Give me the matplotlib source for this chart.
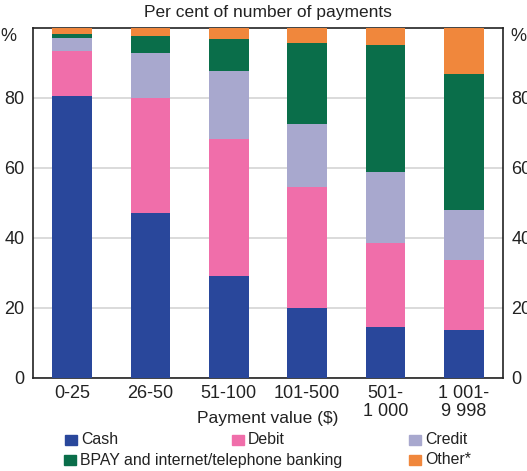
import matplotlib
matplotlib.use("Agg")
import matplotlib.pyplot as plt
from matplotlib.patches import Rectangle
import numpy as np

plt.rcParams['font.family'] = ['Liberation Sans', 'DejaVu Sans']

categories = ["0-25", "26-50", "51-100", "101-500", "501-\n1 000", "1 001-\n9 998"]
cash = [80.5, 47.1, 29.0, 20.0, 14.5, 13.6]
debit = [12.8, 32.8, 39.2, 34.5, 24.0, 20.0]
credit = [3.8, 12.9, 19.4, 18.0, 20.3, 14.3]
bpay = [1.2, 4.9, 9.2, 23.1, 36.3, 38.9]
other = [1.7, 2.3, 3.2, 4.4, 4.9, 13.2]
series_names = ["Cash", "Debit", "Credit", "BPAY and internet/telephone banking", "Other*"]
yticks = [0, 20, 40, 60, 80]

colors = ["#29479b", "#f06eaa", "#a8a8ce", "#0a6e4a", "#f0873c"]
txt = "#222222"

fig = plt.figure(figsize=(5.27, 4.71), dpi=100)
ax = fig.add_axes([33/527, 1 - 377.7/471, 470/527, 350/471])

x = np.arange(len(categories))
bottom = np.zeros(len(categories))
for vals, c in zip([cash, debit, credit, bpay, other], colors):
    ax.bar(x, vals, bottom=bottom, width=0.51, color=c, zorder=3, linewidth=0)
    bottom += np.array(vals)

ax.set_xlim(-0.5, len(categories) - 0.5)
ax.set_ylim(0, 100)
ax.set_yticks(yticks)
ax.set_yticklabels([str(t) for t in yticks], fontsize=13, color=txt)
ax.yaxis.grid(True, color="#d4d4d4", linewidth=1.2, zorder=0)
ax.tick_params(axis='y', length=0, pad=6)
ax.set_xticks(x)
ax.set_xticklabels(categories, fontsize=13, color=txt, linespacing=1.1, va='top')
ax.tick_params(axis='x', length=0, pad=5)
for s in ax.spines.values():
    s.set_color("#222222")
    s.set_linewidth(1.2)

ax2 = ax.twinx()
ax2.set_ylim(0, 100)
ax2.set_yticks(yticks)
ax2.set_yticklabels([str(t) for t in yticks], fontsize=13, color=txt)
ax2.tick_params(axis='y', length=0, pad=6)
for s in ax2.spines.values():
    s.set_visible(False)

ax.text(-0.035, 100, "%", transform=ax.get_yaxis_transform(), ha='right', va='top',
        fontsize=13, color=txt)
ax.text(1.016, 100, "%", transform=ax.get_yaxis_transform(), ha='left', va='top',
        fontsize=13, color=txt)

fig.text(268/527, 1 - 13/471, "Per cent of number of payments", ha='center', va='center',
         fontsize=12.5, color=txt)
fig.text(268/527, 1 - 418/471, "Payment value ($)", ha='center', va='center',
         fontsize=12.5, color=txt)

# manual legend
leg = [(0, 65, 440), (1, 232, 440), (2, 409, 440), (3, 64, 460), (4, 409, 460)]
for idx, px, py in leg:
    fig.patches.append(Rectangle((px/527, 1 - (py + 5)/471), 12/527, 10/471,
                                 transform=fig.transFigure, color=colors[idx]))
    fig.text((px + 16)/527, 1 - py/471, series_names[idx], ha='left', va='center',
             fontsize=11.4, color=txt)

fig.savefig("out.png", dpi=100)
